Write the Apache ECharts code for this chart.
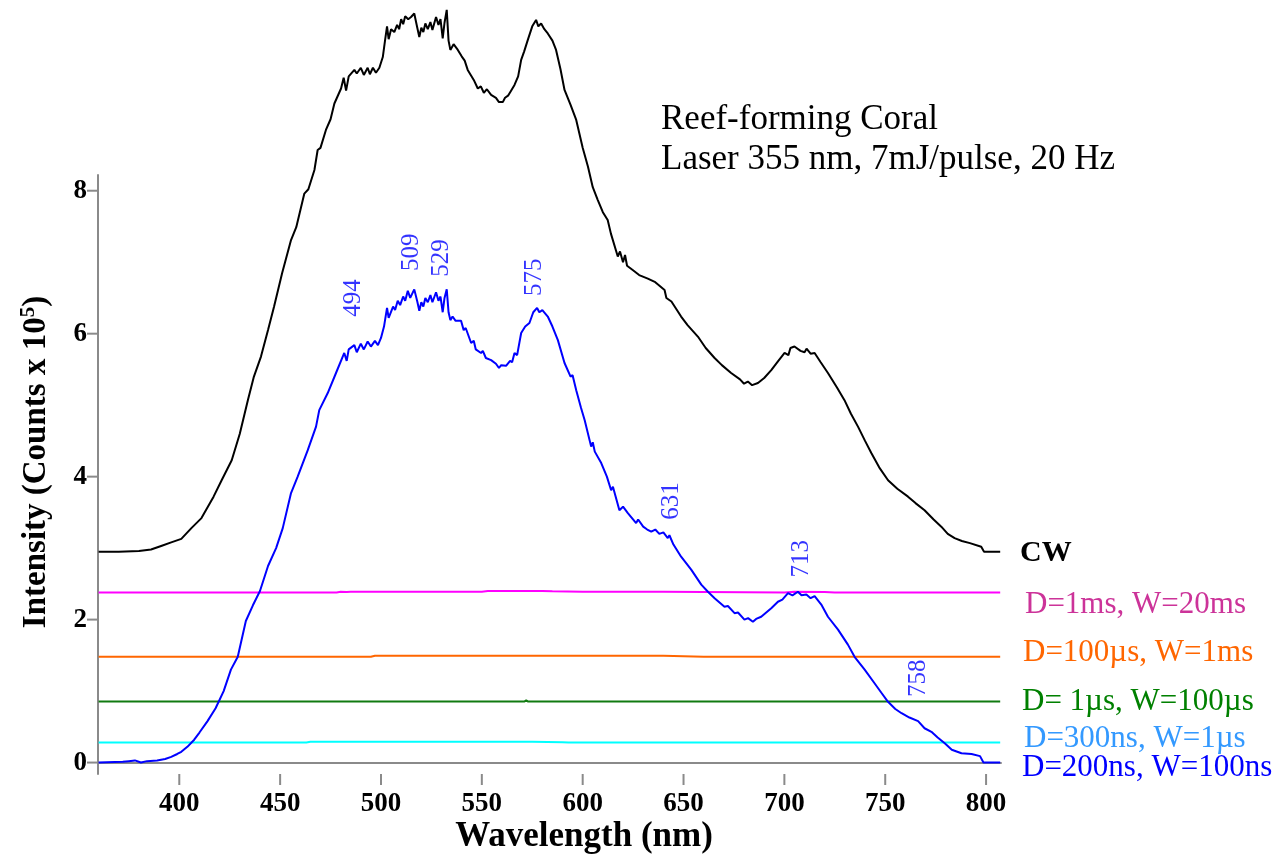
<!DOCTYPE html>
<html>
<head>
<meta charset="utf-8">
<title>Reef-forming Coral LIF spectra</title>
<script src="https://cdn.jsdelivr.net/npm/echarts@6/dist/echarts.min.js"></script>
<style>
  html, body { margin: 0; padding: 0; background: #fff; }
  #chart { width: 1274px; height: 859px; }
</style>
</head>
<body>
<div id="chart"></div>
<script>
// axis ticks
const xTicks = [400, 450, 500, 550, 600, 650, 700, 750, 800];
const yTicks = [0, 2, 4, 6, 8];

// CW spectrum [wavelength nm, counts x 1e5]
const cwSpectrum = [
  [360, 2.95], [370, 2.95], [380, 2.96], [386, 2.98], [391, 3.03], [396, 3.08], [401, 3.13],
  [406, 3.28], [411, 3.42], [417, 3.72], [421, 3.95], [426, 4.23], [430, 4.6], [434, 5.07],
  [437, 5.4], [440.5, 5.68], [444, 6.05], [447, 6.38], [451, 6.85], [455.4, 7.31], [458, 7.49],
  [462, 7.96], [464, 8.02], [467, 8.29], [468.6, 8.57], [470, 8.6], [472.7, 8.85], [475, 9.0],
  [476.9, 9.22], [480.2, 9.43], [481.5, 9.58], [482.7, 9.4], [484, 9.6], [486.8, 9.69],
  [488, 9.64], [490, 9.72], [491.5, 9.62], [493.4, 9.72], [494.5, 9.63], [496, 9.72],
  [497.5, 9.65], [499.2, 9.72], [500.9, 9.87], [502, 10.1], [503, 10.3], [503.8, 10.12],
  [505, 10.26], [506.6, 10.22], [508, 10.32], [509, 10.26], [510, 10.4], [511, 10.33],
  [512, 10.44], [513.5, 10.4], [514.9, 10.43], [516.5, 10.48], [518, 10.28], [519, 10.15],
  [520, 10.28], [521, 10.22], [522, 10.34], [523.2, 10.26], [524.5, 10.36], [525.5, 10.25],
  [527.3, 10.43], [528.5, 10.32], [529.5, 10.4], [530.6, 10.13], [531.5, 10.35], [532.6, 10.53],
  [533.5, 10.1], [534.4, 9.97], [536, 10.05], [538.1, 9.97], [540, 9.88], [541.5, 9.82],
  [543, 9.69], [544.5, 9.62], [546, 9.55], [548, 9.43], [549.5, 9.46], [551, 9.37],
  [552.5, 9.42], [554.6, 9.34], [557, 9.3], [558.5, 9.24], [560.4, 9.24], [561.5, 9.3],
  [563, 9.33], [564.5, 9.4], [566.2, 9.48], [568, 9.6], [569.5, 9.83], [571, 9.95],
  [572.8, 10.11], [575, 10.3], [576.9, 10.39], [578, 10.3], [579.4, 10.34], [581, 10.26],
  [582.7, 10.2], [585, 10.1], [586.8, 9.97], [589, 9.7], [591, 9.41], [594, 9.2], [596.8, 8.99],
  [600, 8.6], [602.6, 8.34], [605, 8.05], [607.5, 7.87], [610, 7.7], [612.4, 7.59], [614, 7.4],
  [617.4, 7.08], [618.5, 7.15], [620, 7.0], [621, 7.1], [622, 6.95], [624.8, 6.89], [628, 6.82],
  [632.3, 6.77], [636, 6.72], [640.6, 6.61], [641.5, 6.5], [644, 6.45], [648.8, 6.24],
  [652, 6.12], [657.1, 5.96], [661, 5.8], [665.4, 5.66], [669, 5.56], [673.6, 5.45], [678, 5.36],
  [680, 5.3], [681.9, 5.33], [684, 5.28], [686.9, 5.31], [690, 5.38], [693.5, 5.49], [697, 5.62],
  [700.1, 5.73], [702, 5.7], [703, 5.8], [705, 5.82], [708, 5.76], [710, 5.74], [711, 5.79],
  [713, 5.72], [715, 5.73], [718, 5.6], [721.6, 5.45], [726, 5.25], [729.8, 5.07], [733, 4.88],
  [736.5, 4.7], [740, 4.5], [743.1, 4.33], [747, 4.13], [751.4, 3.95], [756, 3.83],
  [761.3, 3.72], [765, 3.63], [769.5, 3.53], [774, 3.4], [777.8, 3.3], [781, 3.2],
  [784.4, 3.14], [788, 3.1], [792, 3.07], [797.6, 3.02], [799, 2.95], [807, 2.95]
];

// D=200ns, W=100ns gated spectrum
const gate200ns = [
  [360, 0], [372, 0.01], [375, 0.02], [378, 0.03], [381, 0.0], [384, 0.02], [389, 0.03],
  [393, 0.05], [396, 0.08], [399, 0.12], [401, 0.15], [404, 0.22], [407.4, 0.32], [410, 0.42],
  [414, 0.58], [418, 0.76], [422, 1.0], [425.6, 1.3], [429, 1.48], [433, 1.98], [436.5, 2.2],
  [440, 2.4], [444, 2.75], [448, 3.0], [451.3, 3.28], [455.4, 3.77], [458.7, 4.0], [463.7, 4.37],
  [467.8, 4.7], [469.4, 4.93], [473.6, 5.17], [477.7, 5.45], [481.8, 5.73], [483, 5.62],
  [484, 5.78], [486.8, 5.84], [488, 5.74], [490, 5.86], [491.5, 5.78], [493.4, 5.89],
  [495, 5.82], [497, 5.9], [498.5, 5.84], [500, 5.94], [501.5, 6.1], [503, 6.36], [503.8, 6.22],
  [506, 6.38], [507, 6.33], [508.3, 6.46], [509.5, 6.4], [511, 6.52], [512, 6.46], [513.3, 6.6],
  [514.5, 6.5], [516.5, 6.62], [518, 6.45], [519, 6.32], [520, 6.44], [521, 6.38], [522, 6.5],
  [523.2, 6.44], [524.5, 6.54], [525.5, 6.44], [527.3, 6.58], [528.5, 6.46], [529.5, 6.52],
  [530.6, 6.3], [531.5, 6.5], [532.6, 6.62], [533.5, 6.3], [534.4, 6.19], [535.5, 6.24],
  [537, 6.18], [539.7, 6.18], [541, 6.05], [542, 6.08], [544.7, 5.87], [546, 5.9], [547, 5.78],
  [549.6, 5.73], [550.5, 5.76], [552, 5.66], [554.6, 5.63], [557, 5.58], [558.5, 5.52],
  [559.6, 5.56], [562, 5.55], [564, 5.62], [565, 5.6], [566.2, 5.73], [567.5, 5.7], [569.5, 6.01],
  [571.5, 6.1], [573.6, 6.15], [575.5, 6.3], [577.4, 6.36], [578.5, 6.3], [580, 6.33],
  [582.7, 6.24], [585, 6.1], [587.7, 5.91], [591, 5.59], [594, 5.4], [595, 5.42], [596.8, 5.21],
  [599.2, 4.96], [601, 4.79], [604.2, 4.42], [605, 4.48], [606, 4.35], [609.2, 4.19], [612, 4.0],
  [614.1, 3.81], [615, 3.86], [618.2, 3.53], [620, 3.58], [622.4, 3.49], [626.5, 3.35],
  [627.5, 3.4], [630, 3.3], [632, 3.26], [634, 3.23], [636, 3.26], [638, 3.2], [640, 3.22],
  [642.2, 3.14], [643, 3.18], [645, 3.05], [648.8, 2.88], [653.8, 2.7], [658.8, 2.49],
  [662.1, 2.39], [665.4, 2.3], [670.3, 2.18], [672, 2.19], [675.3, 2.09], [677, 2.1],
  [680.2, 2.0], [682, 2.02], [684.4, 1.97], [686, 2.01], [688.5, 2.04], [693.5, 2.16],
  [696.8, 2.25], [699, 2.28], [701.8, 2.37], [704, 2.34], [706.7, 2.39], [708.5, 2.34],
  [710.9, 2.35], [713, 2.3], [715, 2.33], [718.3, 2.21], [721.6, 2.04], [726.6, 1.86],
  [731.5, 1.65], [734.8, 1.48], [739.8, 1.3], [744.7, 1.11], [748, 0.98], [751.4, 0.85],
  [755, 0.75], [758.1, 0.69], [762, 0.63], [766.3, 0.58], [769.5, 0.48], [772.9, 0.43],
  [776, 0.35], [779.5, 0.27], [783, 0.18], [787.8, 0.13], [792.8, 0.12], [797, 0.09],
  [798.7, 0.0], [807, 0]
];

// the other gates are almost flat
const gate1ms = [
  [360, 2.38], [478, 2.38], [480, 2.39], [483, 2.385], [485, 2.39], [550, 2.39], [553, 2.4],
  [580, 2.4], [585, 2.395], [600, 2.39], [640, 2.39], [700, 2.38], [705, 2.39], [720, 2.385],
  [725, 2.38], [807, 2.38]
];
const gate100us = [
  [360, 1.48], [495, 1.48], [497, 1.495], [640, 1.495], [655, 1.485], [660, 1.48], [807, 1.48]
];
const gate1us = [
  [360, 0.853], [571, 0.853], [572, 0.87], [573, 0.853], [807, 0.853]
];
const gate300ns = [
  [360, 0.28], [463, 0.28], [465, 0.29], [575, 0.29], [590, 0.285], [593, 0.28], [807, 0.28]
];

// peak labels [wavelength, height where the text sits, text]
const peakLabels = [
  [486.1, 6.5, '494'], [514.9, 7.14, '509'], [529.8, 7.06, '529'], [575.9, 6.79, '575'],
  [643.9, 3.66, '631'], [708.4, 2.85, '713'], [766.4, 1.18, '758']
];

const xMin = 359.7, xMax = 807.4;
const yMin = -0.16, yMax = 8.22;
const serif = '"Liberation Serif", "Times New Roman", serif';
const axisGray = '#8a8a8a';
const tickLen = 11;

function lineSeries(name, data, color, z) {
    return {
        name: name,
        type: 'line',
        data: data,
        symbol: 'none',
        clip: false,
        z: z,
        lineStyle: { color: color, width: 2 },
        animation: false
    };
}

// outward tick marks, placed through the axes' own scales
function tickSeries(values, vertical) {
    return {
        type: 'custom',
        data: values.map(v => vertical ? [v, yMin] : [xMin, v]),
        clip: false,
        silent: true,
        z: 1,
        renderItem: function(params, api) {
            const p = api.coord([api.value(0), api.value(1)]);
            const shape = vertical
                ? { x1: p[0], y1: p[1], x2: p[0], y2: p[1] + tickLen }
                : { x1: p[0] - tickLen, y1: p[1], x2: p[0], y2: p[1] };
            return { type: 'line', shape: shape, style: { stroke: axisGray, lineWidth: 2 } };
        }
    };
}

const chart = echarts.init(document.getElementById('chart'), null, { renderer: 'canvas' });

chart.setOption({
    backgroundColor: '#fff',
    animation: false,
    grid: { left: 98, right: 273, top: 175, bottom: 85, containLabel: false, outerBoundsMode: 'none' },
    xAxis: {
        type: 'value',
        min: xMin,
        max: xMax,
        axisLine: { show: true, lineStyle: { color: axisGray, width: 2 } },
        axisTick: { show: false },
        axisLabel: {
            customValues: xTicks, margin: 17, color: '#000',
            fontFamily: serif, fontWeight: 'bold', fontSize: 27
        },
        splitLine: { show: false }
    },
    yAxis: {
        type: 'value',
        min: yMin,
        max: yMax,
        axisLine: { show: true, lineStyle: { color: axisGray, width: 2 } },
        axisTick: { show: false },
        axisLabel: {
            customValues: yTicks, margin: 11, color: '#000',
            fontFamily: serif, fontWeight: 'bold', fontSize: 27
        },
        splitLine: { show: false }
    },
    series: [
        tickSeries(xTicks, true),
        tickSeries(yTicks, false),
        lineSeries('CW', cwSpectrum, '#000000', 2),
        lineSeries('D=1ms, W=20ms', gate1ms, '#ff00ff', 3),
        lineSeries('D=100µs, W=1ms', gate100us, '#ff6600', 3),
        lineSeries('D= 1µs, W=100µs', gate1us, '#107a10', 3),
        lineSeries('D=300ns, W=1µs', gate300ns, '#00ffff', 3),
        lineSeries('D=200ns, W=100ns', gate200ns, '#0000ff', 4),
        {
            name: 'peaks',
            type: 'scatter',
            data: peakLabels,
            symbolSize: 1,
            itemStyle: { color: 'rgba(0,0,0,0)' },
            z: 5,
            label: {
                show: true,
                position: 'inside',
                rotate: 90,
                formatter: p => p.value[2],
                color: '#0000ff',
                fontFamily: serif,
                fontSize: 25
            }
        }
    ],
    graphic: [
        // title block
        { type: 'text', x: 661, y: 120, style: { text: 'Reef-forming Coral', font: '35px ' + serif, fill: '#000', align: 'left', verticalAlign: 'middle' } },
        { type: 'text', x: 661, y: 160, style: { text: 'Laser 355 nm, 7mJ/pulse, 20 Hz', font: '35px ' + serif, fill: '#000', align: 'left', verticalAlign: 'middle' } },
        // axis titles
        { type: 'text', x: 584, y: 837, style: { text: 'Wavelength (nm)', font: 'bold 35px ' + serif, fill: '#000', align: 'center', verticalAlign: 'middle' } },
        {
            type: 'text', x: 36, y: 462, rotation: Math.PI / 2,
            style: {
                text: '{a|Intensity (Counts x 10}{s|5}{a|)}',
                align: 'center', verticalAlign: 'middle', fill: '#000',
                rich: {
                    a: { fontFamily: serif, fontWeight: 'bold', fontSize: 33, lineHeight: 36 },
                    s: { fontFamily: serif, fontWeight: 'bold', fontSize: 21, lineHeight: 24, verticalAlign: 'top' }
                }
            }
        },
        // curve labels on the right
        { type: 'text', x: 1020, y: 553, style: { text: 'CW', font: 'bold 30px ' + serif, fill: '#000', verticalAlign: 'middle' } },
        { type: 'text', x: 1025, y: 605, style: { text: 'D=1ms, W=20ms', font: '31px ' + serif, fill: '#cc3399', verticalAlign: 'middle' } },
        { type: 'text', x: 1023, y: 653, style: { text: 'D=100µs, W=1ms', font: '31px ' + serif, fill: '#ff6600', verticalAlign: 'middle' } },
        { type: 'text', x: 1022, y: 702, style: { text: 'D= 1µs, W=100µs', font: '31px ' + serif, fill: '#008000', verticalAlign: 'middle' } },
        { type: 'text', x: 1024, y: 739, style: { text: 'D=300ns, W=1µs', font: '31px ' + serif, fill: '#3399ff', verticalAlign: 'middle' } },
        { type: 'text', x: 1022, y: 768, style: { text: 'D=200ns, W=100ns', font: '31px ' + serif, fill: '#0000ff', verticalAlign: 'middle' } }
    ]
});

window.addEventListener('resize', function() {
    chart.resize();
});
</script>
</body>
</html>
